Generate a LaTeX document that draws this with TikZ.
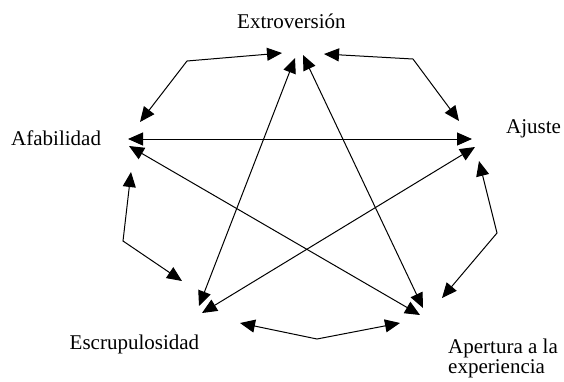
\documentclass[tikz,border=0pt]{standalone}
\usepackage{fontspec}
\setmainfont{Liberation Serif}
\usetikzlibrary{arrows.meta}
\tikzset{
  lbl/.style={inner sep=0pt, font=\fontsize{21}{20}\selectfont, anchor=base west},
  link/.style={line width=1pt, {Triangle[length=15pt,width=13pt]}-{Triangle[length=15pt,width=13pt]}},
}
\begin{document}
\begin{tikzpicture}[x=1pt,y=-1pt]
\useasboundingbox (0,0) rectangle (564,381);

% trait labels
\node[lbl] (ext) at (237,28)  {Extroversión};
\node[lbl] (afa) at (11,145)  {Afabilidad};
\node[lbl] (aju) at (506,133) {Ajuste};
\node[lbl] (esc) at (69.5,349) {Escrupulosidad};
\node[lbl] (ape) at (448,353) {\begin{tabular}[t]{@{}l@{}}Apertura a la\\experiencia\end{tabular}};

% arrow ends of the inner star
\coordinate (afaH) at (128,139);
\coordinate (ajuH) at (472,139);
\coordinate (afaD) at (129,146);
\coordinate (apeD) at (420,315);
\coordinate (extL) at (295,58);
\coordinate (escT) at (199,306);
\coordinate (extR) at (303,55);
\coordinate (apeT) at (423,308);
\coordinate (ajuD) at (475,147);
\coordinate (escD) at (202,313);

% arrow ends and bends of the outer ring
\coordinate (b1) at (187,61);
\coordinate (extA) at (282,53);
\coordinate (afaA) at (140,122);
\coordinate (b2) at (413,59);
\coordinate (extB) at (324,54);
\coordinate (ajuA) at (459,121);
\coordinate (b3) at (123,241);
\coordinate (afaB) at (131,172);
\coordinate (escA) at (182,281);
\coordinate (b4) at (497,233);
\coordinate (ajuB) at (479,161);
\coordinate (apeA) at (442,298);
\coordinate (b5) at (317,339);
\coordinate (escB) at (240,323);
\coordinate (apeB) at (400,323);

% star
\draw[link] (afaH) -- (ajuH);
\draw[link] (afaD) -- (apeD);
\draw[link] (extL) -- (escT);
\draw[link] (extR) -- (apeT);
\draw[link] (ajuD) -- (escD);

% ring
\draw[link] (afaA) -- (b1) -- (extA);
\draw[link] (extB) -- (b2) -- (ajuA);
\draw[link] (afaB) -- (b3) -- (escA);
\draw[link] (ajuB) -- (b4) -- (apeA);
\draw[link] (escB) -- (b5) -- (apeB);
\end{tikzpicture}
\end{document}
